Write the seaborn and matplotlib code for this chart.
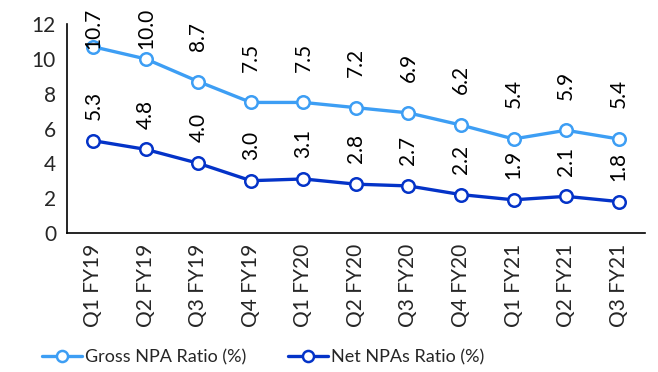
import matplotlib
matplotlib.use("Agg")
import matplotlib.pyplot as plt
import seaborn as sns
import pandas as pd
import numpy as np

quarters = ["Q1 FY19", "Q2 FY19", "Q3 FY19", "Q4 FY19", "Q1 FY20", "Q2 FY20",
            "Q3 FY20", "Q4 FY20", "Q1 FY21", "Q2 FY21", "Q3 FY21"]
gross_npa = [10.7, 10.0, 8.7, 7.5, 7.5, 7.2, 6.9, 6.2, 5.4, 5.9, 5.4]
net_npa = [5.3, 4.8, 4.0, 3.0, 3.1, 2.8, 2.7, 2.2, 1.9, 2.1, 1.8]
series_names = ["Gross NPA Ratio (%)", "Net NPAs Ratio (%)"]
y_ticks = [0, 2, 4, 6, 8, 10, 12]

sns.set_theme(style="white")
plt.rcParams["font.family"] = ["Lato", "DejaVu Sans"]

df = pd.DataFrame({
    "quarter": quarters * 2,
    "pos": list(range(len(quarters))) * 2,
    "value": gross_npa + net_npa,
    "series": [series_names[0]] * len(quarters) + [series_names[1]] * len(quarters),
})

colors = {series_names[0]: "#3d9ef4", series_names[1]: "#0433c8"}

fig = plt.figure(figsize=(6.58, 3.72), dpi=100)
ax = fig.add_axes([0.102, 0.374, 0.878, 0.561])

sns.lineplot(data=df, x="pos", y="value", hue="series", palette=colors,
             marker="o", markersize=9, markerfacecolor="white",
             markeredgewidth=1.8, linewidth=2.4, ax=ax, legend=False)
# marker edges in series colour
for line, name in zip(ax.get_lines(), series_names):
    line.set_markeredgecolor(colors[name])

ax.set_xlim(-0.5, len(quarters) - 0.5)
ax.set_ylim(0, 12)
ax.set_yticks(y_ticks)
ax.set_yticklabels([str(t) for t in y_ticks], fontsize=15)
ax.set_xticks(range(len(quarters)))
ax.set_xticklabels(quarters, rotation=90, fontsize=15)
ax.set_xticks(np.arange(-0.5, len(quarters), 1.0), minor=True)
ax.tick_params(axis="x", which="major", length=0, pad=8)
ax.tick_params(axis="x", which="minor", length=6, width=1.2, color="black", direction="out")
ax.tick_params(axis="y", which="major", length=5, width=1.2, color="black", direction="out", pad=3)
ax.set_xlabel("")
ax.set_ylabel("")
for side in ["top", "right"]:
    ax.spines[side].set_visible(False)
for side in ["left", "bottom"]:
    ax.spines[side].set_color("black")
    ax.spines[side].set_linewidth(1.2)

# value labels, rotated, above each point
texts = []
for vals, off in [(gross_npa, 22), (net_npa, 15)]:
    for i, v in enumerate(vals):
        t = ax.annotate(f"{v:.1f}", xy=(i, v), xytext=(0, off), textcoords="offset points",
                        rotation=90, ha="center", va="bottom", fontsize=15,
                        color="black", annotation_clip=False)
        texts.append(t)

fig.canvas.draw()
renderer = fig.canvas.get_renderer()
H = fig.bbox.height
limit = H - 8
for t in texts:
    bb = t.get_window_extent(renderer)
    if bb.y1 > limit:
        shift = (bb.y1 - limit) * 72 / fig.dpi
        x0, y0 = t.xyann
        t.xyann = (x0, y0 - shift)

handles = [plt.Line2D([], [], color=colors[n], linewidth=2.4, marker="o", markersize=8,
                      markerfacecolor="white", markeredgewidth=1.8, markeredgecolor=colors[n])
           for n in series_names]
fig.legend(handles, series_names, loc="center", bbox_to_anchor=(0.40, 0.04), ncol=2,
           frameon=False, fontsize=13, handlelength=2.2, handletextpad=0.2,
           columnspacing=2.3)

fig.savefig("out.png", dpi=100)
